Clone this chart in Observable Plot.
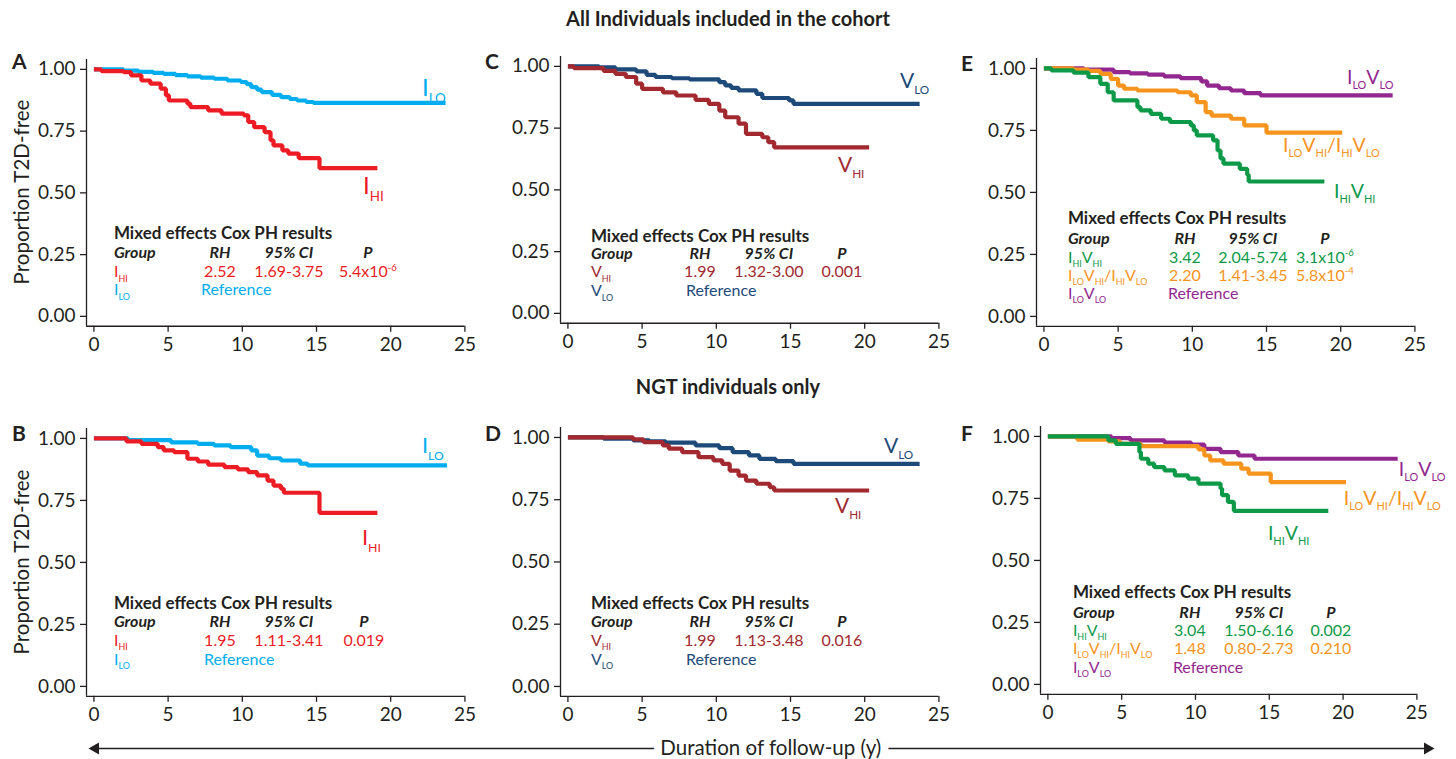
<!DOCTYPE html>
<html><head><meta charset="utf-8">
<script src="https://cdn.jsdelivr.net/npm/d3@7"></script>
<script src="https://cdn.jsdelivr.net/npm/@observablehq/plot@0.6"></script>
<style>
body{margin:0;background:#fff;}
#root{position:relative;width:1456px;height:759px;overflow:hidden;font-family:Lato,"Open Sans",sans-serif;color:#231f20;background:#fff}
.abs{position:absolute;white-space:nowrap;line-height:1}
</style></head>
<body><div id="root"></div>
<script>
// ---------------- DATA ----------------
const xTicks = [0, 5, 10, 15, 20, 25];
const yTicks = [0, 0.25, 0.5, 0.75, 1];
const yTickLabels = ["0.00", "0.25", "0.50", "0.75", "1.00"];
const headingTop = "All Individuals included in the cohort";
const headingBottom = "NGT individuals only";
const yTitle = "Proportion T2D-free";
const xTitle = "Duration of follow-up (y)";
const coxTitle = "Mixed effects Cox PH results";
const coxHeader = ["Group", "RH", "95% CI", "P"];

// Kaplan-Meier steps [time (y), proportion T2D-free]
const A_ILO = [[0,1],[2.0,0.995],[3.0,0.99],[4.0,0.986],[4.7,0.982],[5.5,0.977],[6.3,0.972],[7.2,0.967],[8.1,0.962],[9.0,0.955],[9.9,0.949],[10.3,0.94],[10.6,0.928],[11.0,0.918],[11.3,0.908],[12.0,0.897],[12.6,0.888],[13.2,0.88],[13.7,0.874],[14.3,0.868],[14.8,0.864],[23.7,0.864]];
const A_IHI = [[0,1],[0.5,0.993],[2.0,0.989],[2.5,0.976],[3.2,0.955],[3.8,0.942],[4.5,0.922],[4.85,0.895],[5.05,0.874],[6.3,0.861],[6.5,0.847],[7.7,0.834],[8.6,0.821],[10.1,0.814],[10.4,0.787],[10.8,0.766],[11.5,0.746],[11.9,0.713],[12.1,0.692],[12.7,0.672],[13.1,0.659],[13.8,0.641],[15.2,0.6],[19.1,0.6]];
const C_VLO = [[0,1],[2.1,0.996],[3.2,0.988],[4.6,0.98],[5.3,0.966],[5.9,0.957],[7.0,0.952],[8.2,0.947],[10.2,0.936],[10.6,0.923],[11.0,0.913],[11.5,0.903],[12.7,0.889],[13.1,0.872],[14.9,0.862],[15.2,0.848],[23.7,0.848]];
const C_VHI = [[0,1],[0.4,0.993],[2.4,0.982],[3.2,0.97],[3.9,0.957],[4.6,0.93],[5.0,0.909],[6.4,0.895],[7.3,0.882],[8.6,0.864],[9.5,0.848],[10.2,0.821],[10.6,0.794],[11.5,0.768],[12.0,0.727],[13.1,0.713],[13.5,0.693],[13.9,0.672],[20.3,0.672]];
const E_LL = [[0,1],[2.7,0.995],[4.7,0.985],[5.8,0.98],[7.0,0.975],[8.1,0.968],[9.2,0.961],[10.6,0.948],[11.0,0.931],[11.8,0.92],[12.6,0.911],[13.5,0.9],[14.6,0.891],[23.5,0.891]];
const E_MIX = [[0,1],[2.0,0.995],[3.0,0.99],[3.8,0.978],[4.5,0.958],[5.0,0.931],[5.4,0.918],[6.3,0.911],[9.0,0.904],[9.9,0.891],[10.3,0.864],[10.9,0.824],[11.3,0.81],[12.6,0.797],[13.5,0.77],[15.0,0.741],[20.1,0.741]];
const E_HH = [[0,1],[0.5,0.992],[2.0,0.983],[3.0,0.965],[3.8,0.938],[4.3,0.904],[4.7,0.871],[6.3,0.844],[6.5,0.831],[7.2,0.817],[7.9,0.797],[8.5,0.784],[9.9,0.77],[10.1,0.75],[10.3,0.73],[11.4,0.71],[11.7,0.669],[11.9,0.637],[12.1,0.616],[13.2,0.595],[13.7,0.571],[13.8,0.544],[18.9,0.544]];
const B_ILO = [[0,1],[2.3,0.993],[5.2,0.984],[7.0,0.978],[8.1,0.972],[9.2,0.965],[10.6,0.952],[11.0,0.931],[11.8,0.92],[12.6,0.911],[13.9,0.898],[14.4,0.891],[23.8,0.891]];
const B_IHI = [[0,1],[2.2,0.988],[3.2,0.978],[4.3,0.965],[4.7,0.952],[5.4,0.945],[6.3,0.918],[7.0,0.907],[7.7,0.894],[8.8,0.884],[9.7,0.875],[10.4,0.864],[11.0,0.851],[11.7,0.83],[12.1,0.81],[12.6,0.797],[12.8,0.781],[15.2,0.70],[19.1,0.70]];
const D_VLO = [[0,1],[2.4,0.995],[4.4,0.988],[5.5,0.984],[6.6,0.979],[8.6,0.968],[10.2,0.957],[11.1,0.941],[12.2,0.928],[12.9,0.914],[14.0,0.905],[15.2,0.894],[23.7,0.894]];
const D_VHI = [[0,1],[4.4,0.992],[5.1,0.981],[6.4,0.968],[6.8,0.955],[7.7,0.941],[8.8,0.921],[9.8,0.908],[10.4,0.894],[10.9,0.867],[11.5,0.847],[12.0,0.827],[12.7,0.814],[13.6,0.8],[13.9,0.787],[20.3,0.787]];
const F_LL = [[0,1],[4.3,0.993],[5.6,0.984],[7.9,0.975],[9.7,0.967],[10.6,0.95],[11.7,0.937],[12.9,0.923],[14.0,0.91],[23.7,0.91]];
const F_MIX = [[0,1],[2.0,0.987],[4.1,0.98],[4.9,0.97],[6.3,0.961],[10.2,0.948],[10.6,0.923],[11.0,0.903],[11.9,0.89],[13.1,0.87],[13.6,0.85],[15.1,0.816],[20.2,0.816]];
const F_HH = [[0,1],[4.1,0.984],[4.6,0.97],[6.2,0.937],[6.3,0.91],[6.8,0.89],[7.2,0.876],[7.9,0.863],[8.6,0.843],[9.5,0.83],[10.2,0.81],[11.7,0.79],[11.8,0.763],[12.2,0.736],[12.6,0.70],[19.0,0.70]];

// group names
const gIHI = "I_{HI}", gILO = "I_{LO}", gVHI = "V_{HI}", gVLO = "V_{LO}";
const gHH = "I_{HI}V_{HI}", gMIX = "I_{LO}V_{HI}/I_{HI}V_{LO}", gLL = "I_{LO}V_{LO}";

// Cox PH tables
const coxA = [{g: gIHI, rh: "2.52", ci: "1.69-3.75", p: "5.4x10^{-6}"}, {g: gILO, rh: "Reference"}];
const coxC = [{g: gVHI, rh: "1.99", ci: "1.32-3.00", p: "0.001"}, {g: gVLO, rh: "Reference"}];
const coxE = [{g: gHH, rh: "3.42", ci: "2.04-5.74", p: "3.1x10^{-6}"}, {g: gMIX, rh: "2.20", ci: "1.41-3.45", p: "5.8x10^{-4}"}, {g: gLL, rh: "Reference"}];
const coxB = [{g: gIHI, rh: "1.95", ci: "1.11-3.41", p: "0.019"}, {g: gILO, rh: "Reference"}];
const coxD = [{g: gVHI, rh: "1.99", ci: "1.13-3.48", p: "0.016"}, {g: gVLO, rh: "Reference"}];
const coxF = [{g: gHH, rh: "3.04", ci: "1.50-6.16", p: "0.002"}, {g: gMIX, rh: "1.48", ci: "0.80-2.73", p: "0.210"}, {g: gLL, rh: "Reference"}];

// ---------------- STYLE / LAYOUT ----------------
const INK = "#231f20";
const COL = {IHI: "#ed1c24", ILO: "#00aeef", VHI: "#a1292f", VLO: "#1d4a79", HH: "#0d9a48", MIX: "#f7941d", LL: "#92278f"};
const FONT = "Lato, 'Open Sans', sans-serif";
const TICK_FS = 19, TABLE_FS = 16, TITLE_FS = 17;

const panels = [
  {id: "A", geom: {x0: 93, x25: 464, y1: 69, y0: 316}, letter: [12, 60],
   series: [{data: A_ILO, c: COL.ILO, g: gILO, lx: 421, ly: 88}, {data: A_IHI, c: COL.IHI, g: gIHI, lx: 362, ly: 186}],
   lsize: 24, cox: coxA, cols: {g: 113, rh: 219, ci: 288, p: 367, ref: 200}, rows: [233, 253, 272, 290]},
  {id: "C", geom: {x0: 567, x25: 938, y1: 66, y0: 313}, letter: [485, 60],
   series: [{data: C_VLO, c: COL.VLO, g: gVLO, lx: 899, ly: 81}, {data: C_VHI, c: COL.VHI, g: gVHI, lx: 837, ly: 165}],
   lsize: 21, cox: coxC, cols: {g: 590, rh: 699, ci: 768, p: 841, ref: 685}, rows: [236, 254, 272, 291]},
  {id: "E", geom: {x0: 1043, x25: 1414, y1: 68, y0: 316}, letter: [961, 62],
   series: [{data: E_LL, c: COL.LL, g: gLL, lx: 1346, ly: 77}, {data: E_MIX, c: COL.MIX, g: gMIX, lx: 1282, ly: 145}, {data: E_HH, c: COL.HH, g: gHH, lx: 1333, ly: 191}],
   lsize: 19.5, cox: coxE, cols: {g: 1067, rh: 1184, ci: 1252, p: 1324, ref: 1167}, rows: [218, 238, 257, 275, 293]},
  {id: "B", geom: {x0: 93, x25: 464, y1: 438, y0: 686}, letter: [12, 432],
   series: [{data: B_ILO, c: COL.ILO, g: gILO, lx: 421, ly: 446}, {data: B_IHI, c: COL.IHI, g: gIHI, lx: 361, ly: 538}],
   lsize: 22, cox: coxB, cols: {g: 113, rh: 219, ci: 288, p: 363, ref: 203}, rows: [603, 621, 640, 659]},
  {id: "D", geom: {x0: 567, x25: 938, y1: 437, y0: 686}, letter: [485, 432],
   series: [{data: D_VLO, c: COL.VLO, g: gVLO, lx: 883, ly: 446}, {data: D_VHI, c: COL.VHI, g: gVHI, lx: 834, ly: 506}],
   lsize: 21, cox: coxD, cols: {g: 590, rh: 699, ci: 768, p: 841, ref: 685}, rows: [603, 621, 640, 659]},
  {id: "F", geom: {x0: 1047, x25: 1416, y1: 436, y0: 684}, letter: [961, 432],
   series: [{data: F_LL, c: COL.LL, g: gLL, lx: 1398, ly: 469}, {data: F_MIX, c: COL.MIX, g: gMIX, lx: 1343, ly: 498}, {data: F_HH, c: COL.HH, g: gHH, lx: 1267, ly: 533}],
   lsize: 19.5, cox: coxF, cols: {g: 1072, rh: 1189, ci: 1258, p: 1330, ref: 1172}, rows: [592, 612, 630, 648, 667]},
];

const root = document.getElementById("root");
const NS = "http://www.w3.org/2000/svg";

function htmlText(txt, x, y, {size = 18, weight = 400, anchor = "start", rotate = 0} = {}) {
  const d = document.createElement("div");
  d.className = "abs";
  d.textContent = txt;
  d.style.left = x + "px";
  d.style.top = y + "px";
  d.style.fontSize = size + "px";
  d.style.fontWeight = weight;
  const tx = anchor === "middle" ? "-50%" : "0";
  d.style.transform = rotate ? `translate(-50%,-50%) rotate(${rotate}deg)` : `translate(${tx},-50%)`;
  root.appendChild(d);
}

// turn "I_{HI}" / "10^{-6}" into real sub/superscripts
function richText(svg) {
  svg.querySelectorAll("text").forEach(t => {
    const s = t.textContent;
    if (!/[_^]\{/.test(s)) return;
    const fs = parseFloat(getComputedStyle(t).fontSize);
    t.textContent = "";
    const re = /([_^])\{([^}]*)\}|([^_^]+)/g;
    let m, shift = 0;
    while ((m = re.exec(s))) {
      const ts = document.createElementNS(NS, "tspan");
      let target = 0;
      if (m[1] === "_") { target = 0.28 * fs; ts.setAttribute("font-size", 0.56 * fs); ts.textContent = m[2]; }
      else if (m[1] === "^") { target = -0.38 * fs; ts.setAttribute("font-size", 0.6 * fs); ts.textContent = m[2]; }
      else ts.textContent = m[3];
      const dd = target - shift;
      if (dd) ts.setAttribute("dy", dd);
      shift = target;
      t.appendChild(ts);
    }
  });
}

function makePanel(p) {
  const {x0, x25, y1, y0} = p.geom;
  const kx = (x25 - x0) / 25, ky = y0 - y1;
  const xL = x0 - 0.5 * kx, yT = y1 - 0.04 * ky, yB = y0 + 0.04 * ky;
  const ML = 70, MR = 42, MT = 12, MB = 34;
  const width = ML + (x25 - xL) + MR, height = MT + (yB - yT) + MB;
  const toX = px => (px - x0) / kx, toY = py => (y0 - py) / ky;

  const txt = (s, px, py, o) => Plot.text([s], {x: () => toX(px), y: () => toY(py), text: d => d,
    fontSize: TABLE_FS, fill: INK, textAnchor: "start", ...o});

  const marks = [
    Plot.ruleX([-0.5], {stroke: INK, strokeWidth: 1.3}),
    Plot.ruleY([-0.04], {stroke: INK, strokeWidth: 1.3}),
    Plot.axisX({ticks: xTicks, tickSize: 6, tickPadding: 5, fontSize: TICK_FS, label: null, strokeWidth: 1.3}),
    Plot.axisY({ticks: yTicks, tickSize: 6, tickPadding: 5, fontSize: TICK_FS, label: null, strokeWidth: 1.3,
      tickFormat: d => yTickLabels[yTicks.indexOf(d)]}),
  ];
  for (const s of p.series) {
    marks.push(Plot.line(s.data, {x: d => d[0], y: d => d[1], stroke: s.c, strokeWidth: 4.2, curve: "step-after", strokeLinejoin: "miter", strokeLinecap: "butt"}));
  }
  for (const s of p.series) marks.push(txt(s.g, s.lx, s.ly, {fontSize: p.lsize, fill: s.c}));
  const r = p.rows, c = p.cols;
  marks.push(txt(coxTitle, c.g, r[0], {fontWeight: "bold", fontSize: TITLE_FS}));
  marks.push(txt(coxHeader[0], c.g, r[1], {fontWeight: "bold", fontStyle: "italic"}));
  marks.push(txt(coxHeader[1], c.rh, r[1], {fontWeight: "bold", fontStyle: "italic", textAnchor: "middle"}));
  marks.push(txt(coxHeader[2], c.ci, r[1], {fontWeight: "bold", fontStyle: "italic", textAnchor: "middle"}));
  marks.push(txt(coxHeader[3], c.p, r[1], {fontWeight: "bold", fontStyle: "italic", textAnchor: "middle"}));
  p.cox.forEach((row, i) => {
    const s = p.series.find(q => q.g === row.g);
    const fill = s.c, py = r[2 + i];
    marks.push(txt(row.g, c.g, py, {fill}));
    if (row.ci) {
      marks.push(txt(row.rh, c.rh, py, {fill, textAnchor: "middle"}));
      marks.push(txt(row.ci, c.ci, py, {fill, textAnchor: "middle"}));
      marks.push(txt(row.p, c.p, py, {fill, textAnchor: "middle"}));
    } else {
      marks.push(txt(row.rh, c.ref, py, {fill}));
    }
  });

  const svg = Plot.plot({
    width, height, marginLeft: ML, marginRight: MR, marginTop: MT, marginBottom: MB,
    x: {domain: [-0.5, 25]}, y: {domain: [-0.04, 1.04]},
    style: {fontFamily: FONT, fontSize: TICK_FS + "px", color: INK, background: "transparent", overflow: "visible"},
    marks
  });
  svg.style.position = "absolute";
  svg.style.left = (xL - ML) + "px";
  svg.style.top = (yT - MT) + "px";
  svg.style.maxWidth = "none";
  root.appendChild(svg);
  richText(svg);
  htmlText(p.id, p.letter[0], p.letter[1], {size: 21, weight: 700});
}

panels.forEach(makePanel);

htmlText(headingTop, 728, 18, {size: 20, weight: 700, anchor: "middle"});
htmlText(headingBottom, 728, 386, {size: 20, weight: 700, anchor: "middle"});
htmlText(yTitle, 21, 192, {size: 20.5, rotate: -90});
htmlText(yTitle, 21, 562, {size: 20.5, rotate: -90});

// bottom double arrow with axis title
const arrow = Plot.plot({
  width: 1456, height: 30, marginLeft: 95, marginRight: 29, marginTop: 0, marginBottom: 0,
  x: {domain: [0, 1]}, y: {domain: [-1, 1]}, axis: null,
  style: {fontFamily: FONT, color: INK, background: "transparent", overflow: "visible"},
  marks: [
    Plot.ruleY([0], {stroke: INK, strokeWidth: 1.5}),
    Plot.dot([0, 1], {x: d => d, y: () => 0, symbol: "triangle", r: 4.5, fill: INK, stroke: null, rotate: d => d === 0 ? -90 : 90}),
    Plot.text([xTitle], {x: () => 0.507, y: () => 0, text: d => d, fontSize: 20.5, fill: INK, stroke: "white", strokeWidth: 16})
  ]
});
arrow.style.position = "absolute";
arrow.style.left = "0px";
arrow.style.top = "733px";
arrow.style.maxWidth = "none";
root.appendChild(arrow);
</script>
</body></html>
